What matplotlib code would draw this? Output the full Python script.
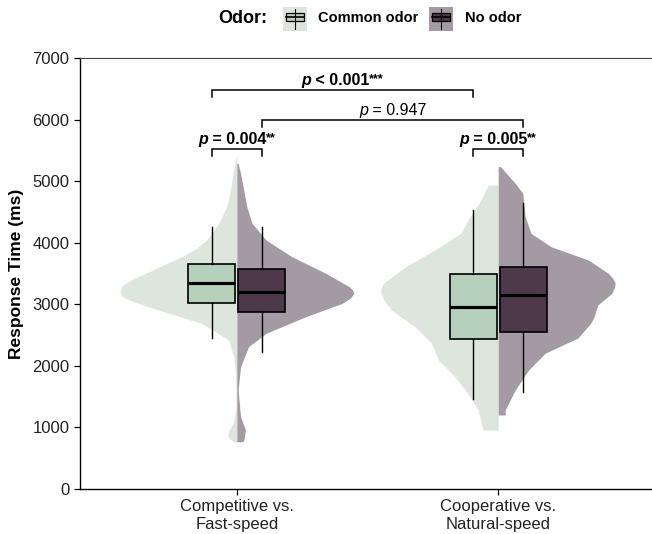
import matplotlib
matplotlib.use("Agg")
import numpy as np
import matplotlib.pyplot as plt
from matplotlib.patches import Rectangle
from matplotlib.transforms import offset_copy

plt.rcParams['font.family'] = ['Liberation Sans', 'DejaVu Sans']

# ---- data ----
categories = ["Competitive vs.\nFast-speed", "Cooperative vs.\nNatural-speed"]
groups = ["Common odor", "No odor"]

# box stats, rows = category, cols = [Common odor, No odor]
medians = [[3350, 3205], [2950, 3145]]
q1 = [[3025, 2880], [2430, 2550]]
q3 = [[3655, 3580], [3490, 3605]]
whis_lo = [[2445, 2220], [1455, 1580]]
whis_hi = [[4260, 4260], [4530, 4650]]

# violin outlines: response time (ms) and relative half-width
v1_common_y = [5425, 5200, 4856, 4600, 4315, 4044, 3900, 3773, 3600, 3503, 3400, 3300, 3205,
               3130, 3070, 2907, 2691, 2420, 2149, 1879, 1337, 1067, 960, 880, 810, 765, 755]
v1_common_w = [0.0, 0.026, 0.054, 0.083, 0.154, 0.256, 0.35, 0.47, 0.67, 0.78, 0.90, 0.98, 1.0,
               0.98, 0.92, 0.67, 0.30, 0.07, 0.026, 0.011, 0.006, 0.03, 0.065, 0.08, 0.06, 0.02, 0.0]
v1_none_y = [5290, 5127, 4585, 4315, 4044, 3773, 3503, 3286, 3230, 3178, 3100, 3016, 2799,
             2529, 2312, 1986, 1608, 1175, 958, 796, 768]
v1_none_w = [0.01, 0.032, 0.085, 0.13, 0.25, 0.47, 0.76, 0.96, 0.99, 1.0, 0.97, 0.90, 0.59,
             0.25, 0.10, 0.032, 0.011, 0.032, 0.074, 0.06, 0.05]
v2_common_y = [4937, 4694, 4423, 4153, 3882, 3611, 3341, 3260, 3178, 3050, 2907, 2636, 2366,
               2095, 1824, 1554, 1283, 958]
v2_common_w = [0.085, 0.145, 0.24, 0.32, 0.54, 0.79, 0.98, 1.0, 1.0, 0.97, 0.91, 0.71, 0.57,
               0.51, 0.37, 0.26, 0.17, 0.13]
v2_none_y = [5235, 4965, 4803, 4423, 4153, 3936, 3719, 3503, 3420, 3341, 3260, 3178, 2988,
             2800, 2691, 2452, 2204, 1933, 1608, 1283, 1202]
v2_none_w = [0.02, 0.145, 0.21, 0.23, 0.28, 0.45, 0.77, 0.94, 0.98, 1.0, 0.99, 0.97, 0.85,
             0.82, 0.79, 0.68, 0.40, 0.26, 0.145, 0.06, 0.06]

violins = [[(v1_common_y, v1_common_w), (v1_none_y, v1_none_w)],
           [(v2_common_y, v2_common_w), (v2_none_y, v2_none_w)]]

violin_colors = ["#DCE6DD", "#A39AA3"]
box_colors = ["#B5D1BC", "#4E394B"]

fig = plt.figure(figsize=(6.52, 5.34), dpi=100)
ax = fig.add_axes([80 / 652, 45 / 534, 575 / 652, 431 / 534])

xpos = np.arange(1, len(categories) + 1)
half_w = 0.448
dodge = 0.096

# half violins
for i, c in enumerate(xpos):
    for g in range(2):
        y, w = violins[i][g]
        side = -1 if g == 0 else 1
        ax.fill_betweenx(y, c, c + side * half_w * np.array(w),
                         color=violin_colors[g], lw=0, zorder=1)

# boxes
for i, c in enumerate(xpos):
    for g in range(2):
        stats = [dict(med=medians[i][g], q1=q1[i][g], q3=q3[i][g],
                      whislo=whis_lo[i][g], whishi=whis_hi[i][g], fliers=[])]
        pos = c - dodge if g == 0 else c + dodge
        ax.bxp(stats, positions=[pos], widths=0.18, showcaps=False,
               showfliers=False, patch_artist=True, manage_ticks=False,
               boxprops=dict(facecolor=box_colors[g], edgecolor="black", lw=1.2),
               medianprops=dict(color="black", lw=2.3),
               whiskerprops=dict(color="black", lw=1.0), zorder=3)


def p_label(ax, x, y, parts):
    texts = []
    for s, kw, rise in parts:
        texts.append((ax.text(x, y, s, ha="left", va="baseline", **kw), rise))
    r = fig.canvas.get_renderer()
    widths = [t.get_window_extent(r).width for t, _ in texts]
    pos = -sum(widths) / 2
    for (t, rise), w in zip(texts, widths):
        t.set_transform(offset_copy(ax.transData, fig=fig, x=pos, y=rise, units="dots"))
        pos += w


def bracket(x0, x1, y, tick=110):
    ax.plot([x0, x0, x1, x1], [y - tick, y, y, y - tick], color="black", lw=1.1,
            solid_joinstyle="miter", zorder=4)


fs = 11.5
bold = dict(fontsize=fs, fontweight="bold")
bold_it = dict(fontsize=fs, fontweight="bold", fontstyle="italic")
stars = dict(fontsize=9, fontweight="bold")

# significance brackets
bracket(1 - dodge, 2 - dodge, 6480)
p_label(ax, 1.5 - dodge, 6565, [("p", bold_it, 0), (" < 0.001", bold, 0), ("***", stars, 3)])

bracket(1 + dodge, 2 + dodge, 5993)
p_label(ax, 1.5 + dodge, 6075, [("p", dict(fontsize=fs, fontstyle="italic"), 0),
                                (" = 0.947", dict(fontsize=fs), 0)])

bracket(1 - dodge, 1 + dodge, 5517)
p_label(ax, 1, 5600, [("p", bold_it, 0), (" = 0.004", bold, 0), ("**", stars, 3)])

bracket(2 - dodge, 2 + dodge, 5517)
p_label(ax, 2, 5600, [("p", bold_it, 0), (" = 0.005", bold, 0), ("**", stars, 3)])

# axes styling
ax.set_xlim(0.4, 2.6)
ax.set_ylim(0, 7000)
ax.set_yticks(np.arange(0, 7001, 1000))
ax.set_xticks(xpos)
ax.set_xticklabels(categories)
ax.tick_params(labelsize=12, length=4, width=0.9, colors="black", labelcolor="#222222")
ax.set_ylabel("Response Time (ms)", fontsize=12.5, fontweight="bold", labelpad=6)
for s in ax.spines.values():
    s.set_linewidth(1.0)
ax.spines["top"].set_color("#444444")
ax.spines["top"].set_linewidth(0.8)

# legend (top)
lax = fig.add_axes([0, 1 - 40 / 534, 1, 40 / 534])
lax.set_xlim(0, 652)
lax.set_ylim(40, 0)
lax.axis("off")
lax.text(218, 18.5, "Odor:", fontsize=13, fontweight="bold", va="center", ha="left")
key_x = [283, 429]
label_x = [318, 465]
for g in range(2):
    kx = key_x[g]
    lax.add_patch(Rectangle((kx, 7), 24, 23.5, facecolor=violin_colors[g], lw=0))
    lax.plot([kx + 12, kx + 12], [9, 28.5], color="black", lw=0.8)
    lax.add_patch(Rectangle((kx + 3, 12.7), 18, 8, facecolor=box_colors[g],
                            edgecolor="black", lw=0.9))
    lax.plot([kx + 3, kx + 21], [16.7, 16.7], color="black", lw=1.2)
    lax.text(label_x[g], 18.5, groups[g], fontsize=10.5, fontweight="bold",
             va="center", ha="left")

fig.savefig("out.png", dpi=100)
